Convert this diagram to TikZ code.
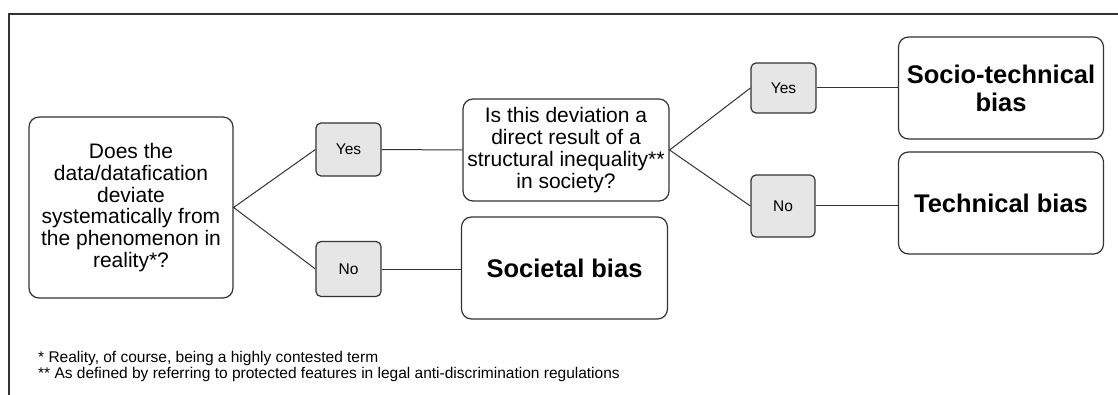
\documentclass[tikz,border=0pt]{standalone}
\usepackage{fontspec}
\setmainfont{Liberation Sans}
\definecolor{edge}{HTML}{333333}
\definecolor{ansfill}{HTML}{E6E6E6}
\begin{document}
\begin{tikzpicture}[x=1pt,y=-1pt,
  box/.style={draw=edge, line width=1.2pt, rounded corners=10pt, fill=white, align=center, inner sep=0pt},
  qtext/.style={font=\fontsize{21}{21.8}\selectfont},
  btext/.style={font=\fontsize{25.5}{28}\selectfont\bfseries},
  ans/.style={draw=edge, line width=1.2pt, rounded corners=5pt, fill=ansfill, font=\fontsize{15.5}{17}\selectfont, inner sep=0pt},
  con/.style={draw=edge, line width=1pt},
  note/.style={font=\fontsize{15.5}{16}\selectfont, anchor=base west, inner sep=0pt}]
\useasboundingbox (0,0) rectangle (1118,395);
\draw[line width=1.3pt, edge] (1118,14) -- (9,14) -- (9,395);

\node[box, qtext, minimum width=204pt, minimum height=181pt] (q1) at (131,207.5)
  {Does the\\data/datafication\\deviate\\systematically from\\the phenomenon in\\reality*?};
\node[ans, minimum width=65pt, minimum height=53pt] (y1) at (348.5,149.5) {Yes};
\node[ans, minimum width=65pt, minimum height=55pt] (n1) at (348.5,269) {No};
\node[box, qtext, minimum width=206pt, minimum height=102pt] (q2) at (566,150)
  {Is this deviation a\\direct result of a\\structural inequality**\\in society?};
\node[box, btext, minimum width=206pt, minimum height=102pt] (soc) at (564.5,268) {Societal bias};
\node[ans, minimum width=65pt, minimum height=50pt] (y2) at (783.5,88) {Yes};
\node[ans, minimum width=64pt, minimum height=62pt] (n2) at (783,206) {No};
\node[box, btext, minimum width=205pt, minimum height=102pt] (st) at (1001,88) {Socio-technical\\bias};
\node[box, btext, minimum width=205pt, minimum height=102pt] (tech) at (1001,203) {Technical bias};

\draw[con] (y1.west) -- (q1.east) -- (n1.west);
\draw[con] (y1.east) -- (q2.west);
\draw[con] (n1.east) -- (soc.west |- n1.east);
\draw[con] (y2.west) -- (q2.east) -- (n2.west);
\draw[con] (y2.east) -- (st.west |- y2.east);
\draw[con] (n2.east) -- (tech.west |- n2.east);

\node[note] (f1) at (38,362.5) {* Reality, of course, being a highly contested term};
\node[note] (f2) at (38,378.5) {** As defined by referring to protected features in legal anti-discrimination regulations};
\end{tikzpicture}
\end{document}
